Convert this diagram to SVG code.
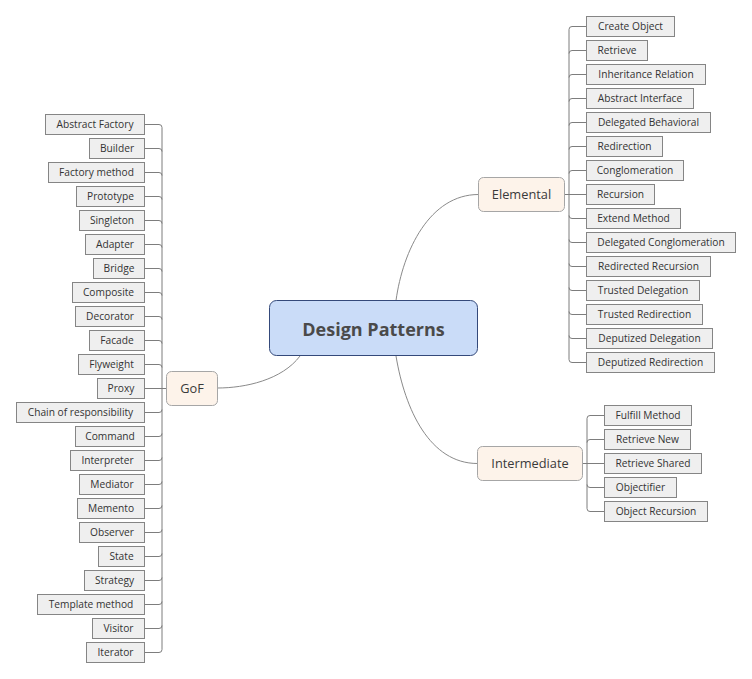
<svg xmlns="http://www.w3.org/2000/svg" width="752" height="679" viewBox="0 0 752 679">
<style>
.leaf rect{fill:#efefef;stroke:#858585;stroke-width:1}
.leaf text{font-family:"Open Sans","Noto Sans",sans-serif;font-size:10.2px;fill:#333;text-anchor:middle}
.main rect{fill:#fdf3ea;stroke:#a6a6a6;stroke-width:1}
.main text{font-family:"Open Sans","Noto Sans",sans-serif;font-size:12.8px;fill:#3a3a3a;text-anchor:middle}
.conn path{fill:none;stroke:#7d7d7d;stroke-width:1}
.conn path.curve{stroke:#8a8a8a}
</style>
<rect width="752" height="679" fill="#fff"/>
<g class="conn" id="connectors">
<path class="curve" d="M217.5,388 C245,388 282,380 300,356"/>
<path class="curve" d="M396,300.5 C403,250 430,194.5 478.5,194.5"/>
<path class="curve" d="M396,356 C405,410 430,463.5 477.5,463.5"/>
<path d="M162,127.5 V649.5"/>
<path d="M144.5,124.5 H159 Q162,124.5 162,127.5"/>
<path d="M144.5,148.5 H159 Q162,148.5 162,151.5"/>
<path d="M144.5,172.5 H159 Q162,172.5 162,175.5"/>
<path d="M144.5,196.5 H159 Q162,196.5 162,199.5"/>
<path d="M144.5,220.5 H159 Q162,220.5 162,223.5"/>
<path d="M144.5,244.5 H159 Q162,244.5 162,247.5"/>
<path d="M144.5,268.5 H159 Q162,268.5 162,271.5"/>
<path d="M144.5,292.5 H159 Q162,292.5 162,295.5"/>
<path d="M144.5,316.5 H159 Q162,316.5 162,319.5"/>
<path d="M144.5,340.5 H159 Q162,340.5 162,343.5"/>
<path d="M144.5,364.5 H159 Q162,364.5 162,367.5"/>
<path d="M144.5,388.5 H166.5"/>
<path d="M144.5,412.5 H159 Q162,412.5 162,409.5"/>
<path d="M144.5,436.5 H159 Q162,436.5 162,433.5"/>
<path d="M144.5,460.5 H159 Q162,460.5 162,457.5"/>
<path d="M144.5,484.5 H159 Q162,484.5 162,481.5"/>
<path d="M144.5,508.5 H159 Q162,508.5 162,505.5"/>
<path d="M144.5,532.5 H159 Q162,532.5 162,529.5"/>
<path d="M144.5,556.5 H159 Q162,556.5 162,553.5"/>
<path d="M144.5,580.5 H159 Q162,580.5 162,577.5"/>
<path d="M144.5,604.5 H159 Q162,604.5 162,601.5"/>
<path d="M144.5,628.5 H159 Q162,628.5 162,625.5"/>
<path d="M144.5,652.5 H159 Q162,652.5 162,649.5"/>
<path d="M569,29.5 V359.5"/>
<path d="M569,29.5 Q569,26.5 572,26.5 H586.5"/>
<path d="M569,53.5 Q569,50.5 572,50.5 H586.5"/>
<path d="M569,77.5 Q569,74.5 572,74.5 H586.5"/>
<path d="M569,101.5 Q569,98.5 572,98.5 H586.5"/>
<path d="M569,125.5 Q569,122.5 572,122.5 H586.5"/>
<path d="M569,149.5 Q569,146.5 572,146.5 H586.5"/>
<path d="M569,173.5 Q569,170.5 572,170.5 H586.5"/>
<path d="M564.5,194.5 H586.5"/>
<path d="M569,215.5 Q569,218.5 572,218.5 H586.5"/>
<path d="M569,239.5 Q569,242.5 572,242.5 H586.5"/>
<path d="M569,263.5 Q569,266.5 572,266.5 H586.5"/>
<path d="M569,287.5 Q569,290.5 572,290.5 H586.5"/>
<path d="M569,311.5 Q569,314.5 572,314.5 H586.5"/>
<path d="M569,335.5 Q569,338.5 572,338.5 H586.5"/>
<path d="M569,359.5 Q569,362.5 572,362.5 H586.5"/>
<path d="M587,418.5 V508.5"/>
<path d="M587,418.5 Q587,415.5 590,415.5 H604.5"/>
<path d="M587,442.5 Q587,439.5 590,439.5 H604.5"/>
<path d="M582.5,463.5 H604.5"/>
<path d="M587,484.5 Q587,487.5 590,487.5 H604.5"/>
<path d="M587,508.5 Q587,511.5 590,511.5 H604.5"/>
</g>
<g id="central">
<rect x="269.5" y="300.5" width="208" height="55" rx="7" fill="#cadcf8" stroke="#34497a" stroke-width="1"/>
<text x="373.5" y="335.5" font-family="'Open Sans','Noto Sans',sans-serif" font-size="18" font-weight="bold" fill="#4a4a4a" text-anchor="middle">Design Patterns</text>
</g>
<g id="gof" class="main"><rect x="166.5" y="371.5" width="51" height="34" rx="5"/><text x="192" y="393">GoF</text></g>
<g id="elemental" class="main"><rect x="478.5" y="177.5" width="86" height="34" rx="5"/><text x="521.5" y="199">Elemental</text></g>
<g id="intermediate" class="main"><rect x="477.5" y="446.5" width="105" height="34" rx="5"/><text x="530" y="468">Intermediate</text></g>
<g id="abstract-factory" class="leaf"><rect x="45.5" y="114.5" width="99" height="20"/><text x="95" y="128.3">Abstract Factory</text></g>
<g id="builder" class="leaf"><rect x="89.5" y="138.5" width="55" height="20"/><text x="117" y="152.3">Builder</text></g>
<g id="factory-method" class="leaf"><rect x="48.5" y="162.5" width="96" height="20"/><text x="96.5" y="176.3">Factory method</text></g>
<g id="prototype" class="leaf"><rect x="76.5" y="186.5" width="68" height="20"/><text x="110.5" y="200.3">Prototype</text></g>
<g id="singleton" class="leaf"><rect x="79.5" y="210.5" width="65" height="20"/><text x="112" y="224.3">Singleton</text></g>
<g id="adapter" class="leaf"><rect x="85.5" y="234.5" width="59" height="20"/><text x="115" y="248.3">Adapter</text></g>
<g id="bridge" class="leaf"><rect x="93.5" y="258.5" width="51" height="20"/><text x="119" y="272.3">Bridge</text></g>
<g id="composite" class="leaf"><rect x="72.5" y="282.5" width="72" height="20"/><text x="108.5" y="296.3">Composite</text></g>
<g id="decorator" class="leaf"><rect x="75.5" y="306.5" width="69" height="20"/><text x="110" y="320.3">Decorator</text></g>
<g id="facade" class="leaf"><rect x="89.5" y="330.5" width="55" height="20"/><text x="117" y="344.3">Facade</text></g>
<g id="flyweight" class="leaf"><rect x="78.5" y="354.5" width="66" height="20"/><text x="111.5" y="368.3">Flyweight</text></g>
<g id="proxy" class="leaf"><rect x="97.5" y="378.5" width="47" height="20"/><text x="121" y="392.3">Proxy</text></g>
<g id="chain" class="leaf"><rect x="16.5" y="402.5" width="128" height="20"/><text x="80.5" y="416.3">Chain of responsibility</text></g>
<g id="command" class="leaf"><rect x="75.5" y="426.5" width="69" height="20"/><text x="110" y="440.3">Command</text></g>
<g id="interpreter" class="leaf"><rect x="70.5" y="450.5" width="74" height="20"/><text x="107.5" y="464.3">Interpreter</text></g>
<g id="mediator" class="leaf"><rect x="79.5" y="474.5" width="65" height="20"/><text x="112" y="488.3">Mediator</text></g>
<g id="memento" class="leaf"><rect x="77.5" y="498.5" width="67" height="20"/><text x="111" y="512.3">Memento</text></g>
<g id="observer" class="leaf"><rect x="79.5" y="522.5" width="65" height="20"/><text x="112" y="536.3">Observer</text></g>
<g id="state" class="leaf"><rect x="98.5" y="546.5" width="46" height="20"/><text x="121.5" y="560.3">State</text></g>
<g id="strategy" class="leaf"><rect x="84.5" y="570.5" width="60" height="20"/><text x="114.5" y="584.3">Strategy</text></g>
<g id="template-method" class="leaf"><rect x="37.5" y="594.5" width="107" height="20"/><text x="91" y="608.3">Template method</text></g>
<g id="visitor" class="leaf"><rect x="92.5" y="618.5" width="52" height="20"/><text x="118.5" y="632.3">Visitor</text></g>
<g id="iterator" class="leaf"><rect x="86.5" y="642.5" width="58" height="20"/><text x="115.5" y="656.3">Iterator</text></g>
<g id="create-object" class="leaf"><rect x="586.5" y="16.5" width="88" height="20"/><text x="630.5" y="30.3">Create Object</text></g>
<g id="retrieve" class="leaf"><rect x="586.5" y="40.5" width="61" height="20"/><text x="617" y="54.3">Retrieve</text></g>
<g id="inheritance-relation" class="leaf"><rect x="586.5" y="64.5" width="119" height="20"/><text x="646" y="78.3">Inheritance Relation</text></g>
<g id="abstract-interface" class="leaf"><rect x="586.5" y="88.5" width="107" height="20"/><text x="640" y="102.3">Abstract Interface</text></g>
<g id="delegated-behavioral" class="leaf"><rect x="586.5" y="112.5" width="124" height="20"/><text x="648.5" y="126.3">Delegated Behavioral</text></g>
<g id="redirection" class="leaf"><rect x="586.5" y="136.5" width="76" height="20"/><text x="624.5" y="150.3">Redirection</text></g>
<g id="conglomeration" class="leaf"><rect x="586.5" y="160.5" width="97" height="20"/><text x="635" y="174.3">Conglomeration</text></g>
<g id="recursion" class="leaf"><rect x="586.5" y="184.5" width="68" height="20"/><text x="620.5" y="198.3">Recursion</text></g>
<g id="extend-method" class="leaf"><rect x="586.5" y="208.5" width="94" height="20"/><text x="633.5" y="222.3">Extend Method</text></g>
<g id="delegated-conglomeration" class="leaf"><rect x="586.5" y="232.5" width="149" height="20"/><text x="661" y="246.3">Delegated Conglomeration</text></g>
<g id="redirected-recursion" class="leaf"><rect x="586.5" y="256.5" width="124" height="20"/><text x="648.5" y="270.3">Redirected Recursion</text></g>
<g id="trusted-delegation" class="leaf"><rect x="586.5" y="280.5" width="113" height="20"/><text x="643" y="294.3">Trusted Delegation</text></g>
<g id="trusted-redirection" class="leaf"><rect x="586.5" y="304.5" width="116" height="20"/><text x="644.5" y="318.3">Trusted Redirection</text></g>
<g id="deputized-delegation" class="leaf"><rect x="586.5" y="328.5" width="126" height="20"/><text x="649.5" y="342.3">Deputized Delegation</text></g>
<g id="deputized-redirection" class="leaf"><rect x="586.5" y="352.5" width="128" height="20"/><text x="650.5" y="366.3">Deputized Redirection</text></g>
<g id="fulfill-method" class="leaf"><rect x="604.5" y="405.5" width="87" height="20"/><text x="648" y="419.3">Fulfill Method</text></g>
<g id="retrieve-new" class="leaf"><rect x="604.5" y="429.5" width="86" height="20"/><text x="647.5" y="443.3">Retrieve New</text></g>
<g id="retrieve-shared" class="leaf"><rect x="604.5" y="453.5" width="97" height="20"/><text x="653" y="467.3">Retrieve Shared</text></g>
<g id="objectifier" class="leaf"><rect x="604.5" y="477.5" width="72" height="20"/><text x="640.5" y="491.3">Objectifier</text></g>
<g id="object-recursion" class="leaf"><rect x="604.5" y="501.5" width="103" height="20"/><text x="656" y="515.3">Object Recursion</text></g>
</svg>
